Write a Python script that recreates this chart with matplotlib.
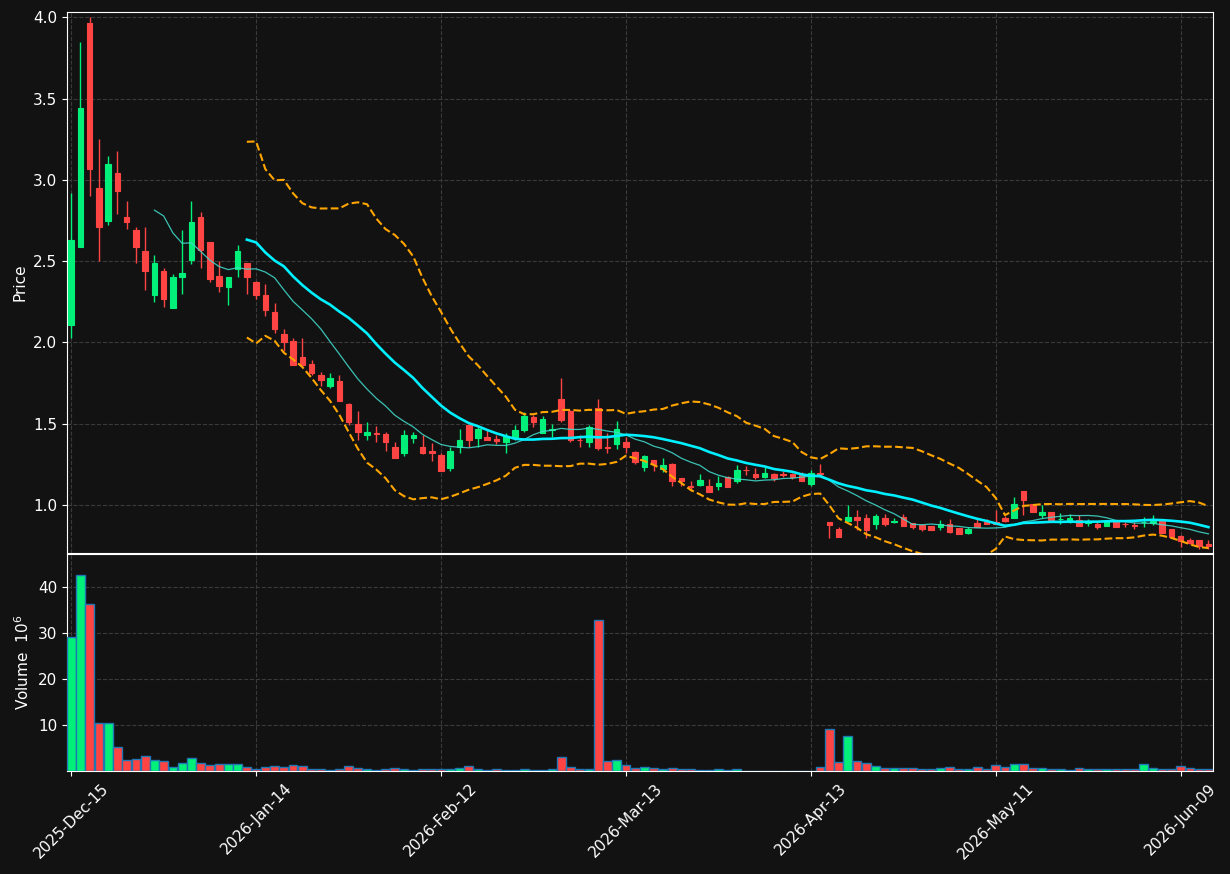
import numpy as np
import pandas as pd
import matplotlib
matplotlib.use('Agg')
import matplotlib.pyplot as plt

# OHLC (indice di seduta 0..123)
opens = [2.11, 2.59, 3.965, 2.95, 2.75, 3.04, 2.77, 2.69, 2.56, 2.29,
         2.44, 2.21, 2.40, 2.51, 2.77, 2.62, 2.41, 2.34, 2.45, 2.49,
         2.37, 2.29, 2.19, 2.05, 2.01, 1.91, 1.87, 1.80, 1.73, 1.76,
         1.62, 1.50, 1.43, 1.44, 1.435, 1.36, 1.32, 1.415, 1.36, 1.33,
         1.31, 1.23, 1.355, 1.49, 1.41, 1.42, 1.405, 1.39, 1.41, 1.46,
         1.54, 1.445, 1.46, 1.65, 1.58, 1.40, 1.385, 1.595, 1.357, 1.375,
         1.385, 1.325, 1.235, 1.28, 1.22, 1.255, 1.165, 1.115, 1.125, 1.115,
         1.115, 1.175, 1.145, 1.218, 1.19, 1.175, 1.19, 1.19, 1.19, 1.185,
         1.13, 1.195, 0.895, 0.85, 0.90, 0.925, 0.92, 0.885, 0.92, 0.893,
         0.925, 0.89, 0.878, 0.872, 0.862, 0.884, 0.857, 0.826, 0.888, 0.898,
         0.898, 0.923, 0.923, 1.085, 1.005, 0.94, 0.957, 0.911, 0.894, 0.908,
         0.89, 0.884, 0.873, 0.90, 0.885, 0.878, 0.894, 0.888, 0.90, 0.853,
         0.81, 0.785, 0.785, 0.762]
highs = [2.92, 3.85, 4.00, 3.25, 3.15, 3.18, 2.87, 2.71, 2.71, 2.54,
         2.46, 2.42, 2.69, 2.87, 2.80, 2.62, 2.50, 2.40, 2.60, 2.49,
         2.38, 2.36, 2.24, 2.08, 2.03, 2.03, 1.89, 1.82, 1.81, 1.80,
         1.63, 1.58, 1.51, 1.485, 1.45, 1.39, 1.46, 1.45, 1.43, 1.38,
         1.32, 1.36, 1.47, 1.49, 1.48, 1.46, 1.43, 1.44, 1.49, 1.57,
         1.555, 1.545, 1.50, 1.78, 1.585, 1.43, 1.49, 1.65, 1.445, 1.515,
         1.42, 1.335, 1.31, 1.28, 1.29, 1.26, 1.165, 1.145, 1.19, 1.16,
         1.18, 1.18, 1.245, 1.24, 1.225, 1.235, 1.195, 1.21, 1.195, 1.205,
         1.215, 1.255, 0.895, 0.865, 1.00, 0.97, 0.945, 0.945, 0.945, 0.92,
         0.945, 0.89, 0.885, 0.872, 0.908, 0.912, 0.857, 0.867, 0.912, 0.912,
         0.969, 0.933, 1.048, 1.085, 1.005, 0.998, 0.957, 0.95, 0.942, 0.939,
         0.913, 0.898, 0.904, 0.90, 0.898, 0.896, 0.925, 0.937, 0.90, 0.853,
         0.814, 0.798, 0.785, 0.785]
lows = [2.03, 2.59, 2.90, 2.50, 2.72, 2.79, 2.70, 2.49, 2.32, 2.25,
        2.22, 2.21, 2.30, 2.48, 2.46, 2.37, 2.31, 2.23, 2.40, 2.30,
        2.27, 2.16, 2.06, 1.95, 1.86, 1.86, 1.80, 1.73, 1.72, 1.64,
        1.49, 1.40, 1.40, 1.39, 1.33, 1.29, 1.30, 1.38, 1.315, 1.27,
        1.21, 1.21, 1.32, 1.355, 1.355, 1.40, 1.375, 1.32, 1.40, 1.45,
        1.48, 1.445, 1.42, 1.51, 1.385, 1.355, 1.36, 1.34, 1.32, 1.345,
        1.32, 1.255, 1.21, 1.21, 1.205, 1.115, 1.115, 1.085, 1.115, 1.08,
        1.095, 1.11, 1.135, 1.185, 1.16, 1.165, 1.145, 1.17, 1.16, 1.145,
        1.115, 1.185, 0.795, 0.805, 0.90, 0.845, 0.795, 0.855, 0.87, 0.888,
        0.87, 0.85, 0.843, 0.847, 0.847, 0.826, 0.822, 0.822, 0.867, 0.884,
        0.884, 0.898, 0.92, 0.937, 0.957, 0.92, 0.904, 0.884, 0.892, 0.872,
        0.872, 0.855, 0.873, 0.867, 0.867, 0.855, 0.863, 0.876, 0.826, 0.802,
        0.741, 0.759, 0.728, 0.732]
closes = [2.63, 3.44, 3.07, 2.71, 3.10, 2.93, 2.74, 2.59, 2.44, 2.49,
          2.27, 2.40, 2.43, 2.74, 2.57, 2.39, 2.35, 2.40, 2.56, 2.40,
          2.29, 2.20, 2.08, 2.00, 1.86, 1.86, 1.81, 1.77, 1.78, 1.64,
          1.51, 1.45, 1.45, 1.435, 1.39, 1.29, 1.43, 1.43, 1.32, 1.32,
          1.21, 1.33, 1.40, 1.40, 1.465, 1.40, 1.395, 1.425, 1.46, 1.545,
          1.51, 1.53, 1.465, 1.52, 1.40, 1.398, 1.48, 1.35, 1.353, 1.465,
          1.355, 1.265, 1.30, 1.255, 1.245, 1.145, 1.145, 1.11, 1.155, 1.08,
          1.135, 1.11, 1.215, 1.214, 1.175, 1.195, 1.165, 1.187, 1.175, 1.145,
          1.195, 1.19, 0.88, 0.805, 0.925, 0.91, 0.845, 0.93, 0.885, 0.90,
          0.87, 0.865, 0.852, 0.847, 0.882, 0.836, 0.822, 0.853, 0.867, 0.884,
          0.884, 0.904, 1.005, 1.03, 0.957, 0.957, 0.905, 0.914, 0.921, 0.872,
          0.893, 0.867, 0.90, 0.867, 0.883, 0.87, 0.897, 0.904, 0.83, 0.806,
          0.781, 0.765, 0.745, 0.748]
# volumi in milioni
volumes = [29.1, 42.7, 36.3, 10.4, 10.4, 5.2, 2.4, 2.6, 3.3, 2.4,
           2.2, 1.0, 1.7, 2.8, 1.7, 1.3, 1.5, 1.5, 1.5, 1.0,
           0.6, 0.9, 1.1, 0.9, 1.3, 1.1, 0.6, 0.6, 0.35, 0.6,
           1.1, 0.65, 0.43, 0.2, 0.43, 0.65, 0.43, 0.2, 0.43, 0.43,
           0.43, 0.43, 0.65, 1.1, 0.43, 0.2, 0.43, 0.2, 0.2, 0.43,
           0.2, 0.2, 0.43, 3.0, 0.87, 0.43, 0.43, 32.9, 2.2, 2.4,
           1.3, 0.65, 0.87, 0.65, 0.43, 0.65, 0.43, 0.43, 0.2, 0.2,
           0.43, 0.2, 0.43, 0.15, 0.15, 0.15, 0.15, 0.15, 0.15, 0.15,
           0.15, 0.87, 9.1, 1.96, 7.6, 2.2, 1.7, 1.1, 0.65, 0.65,
           0.65, 0.65, 0.43, 0.43, 0.65, 0.87, 0.43, 0.43, 0.87, 0.43,
           1.3, 0.87, 1.5, 1.5, 0.65, 0.65, 0.43, 0.43, 0.2, 0.65,
           0.43, 0.43, 0.43, 0.43, 0.43, 0.43, 1.5, 0.65, 0.43, 0.43,
           1.1, 0.65, 0.43, 0.43]
tick_pos = [0, 20, 40, 60, 80, 100, 120]
tick_labels = ['2025-Dec-15', '2026-Jan-14', '2026-Feb-12', '2026-Mar-13',
               '2026-Apr-13', '2026-May-11', '2026-Jun-09']

df = pd.DataFrame({'Open': opens, 'High': highs, 'Low': lows,
                   'Close': closes, 'Volume': volumes})
x = np.arange(len(df))

# medie mobili e bande di Bollinger
df['MA10'] = df['Close'].rolling(10).mean()
df['MA20'] = df['Close'].rolling(20).mean()
std20 = df['Close'].rolling(20).std()
df['BBup'] = df['MA20'] + 2 * std20
df['BBdn'] = df['MA20'] - 2 * std20

bg = '#121212'
up_col = '#00f07a'
down_col = '#ff4444'
grid_kw = dict(color='#3a3a3a', linestyle='--', linewidth=0.8)

fig = plt.figure(figsize=(12.3, 8.74), dpi=100, facecolor=bg)
ax1 = fig.add_axes([0.0545, 0.3673, 0.9317, 0.619])
ax2 = fig.add_axes([0.0545, 0.1178, 0.9317, 0.2483], sharex=ax1)

is_up = df['Close'] >= df['Open']
colors = np.where(is_up, up_col, down_col)

# candele
ax1.vlines(x, df['Low'], df['High'], colors=colors, linewidth=1.0, zorder=3)
body_lo = np.minimum(df['Open'], df['Close'])
body_h = (df['Close'] - df['Open']).abs()
ax1.bar(x, body_h, bottom=body_lo, width=0.6, color=colors,
        edgecolor=colors, linewidth=0.8, zorder=4)

ax1.plot(x, df['MA10'], color='#40e0d0', linewidth=0.9, alpha=0.85, zorder=5)
ax1.plot(x, df['MA20'], color='#00f0ff', linewidth=1.9, zorder=5)
ax1.plot(x, df['BBup'], color='#ffa500', linestyle='--', linewidth=1.5, zorder=5)
ax1.plot(x, df['BBdn'], color='#ffa500', linestyle='--', linewidth=1.5, zorder=5)

ax1.set_ylim(0.705, 4.033)
ax1.set_yticks([1.0, 1.5, 2.0, 2.5, 3.0, 3.5, 4.0])
ax1.set_ylabel('Price', color='white', fontsize=11)

# volume
ax2.bar(x, df['Volume'], width=0.95, color=colors, edgecolor='#1f77b4',
        linewidth=1.0, zorder=3)
ax2.set_ylim(0.05, 47.2)
ax2.set_yticks([10, 20, 30, 40])
ax2.set_ylabel('Volume  $10^{6}$', color='white', fontsize=11)

ax2.set_xlim(-0.45, 123.5)
ax2.set_xticks(tick_pos)
ax2.set_xticklabels(tick_labels, rotation=45)
plt.setp(ax1.get_xticklabels(), visible=False)

for ax in (ax1, ax2):
    ax.set_facecolor(bg)
    ax.grid(True, **grid_kw)
    ax.set_axisbelow(True)
    ax.tick_params(colors='white', labelsize=11)
    for s in ax.spines.values():
        s.set_color('white')

fig.savefig('out.png', dpi=100, facecolor=bg)
